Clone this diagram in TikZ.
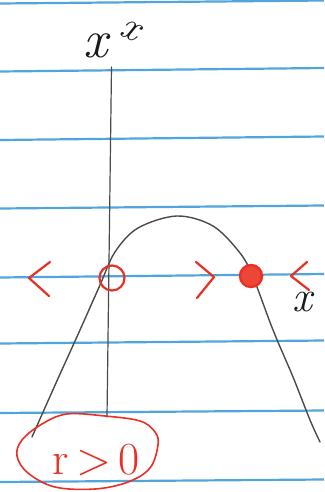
\documentclass[tikz,border=0pt]{standalone}
\begin{document}
\begin{tikzpicture}[x=1pt,y=-1pt,
  ruled/.style={draw={rgb,255:red,80;green,165;blue,220},line width=2.2pt},
  curve/.style={draw={rgb,255:red,75;green,75;blue,75},line width=1.4pt,line cap=round},
  redmark/.style={draw={rgb,255:red,232;green,48;blue,36},line width=2.2pt,line cap=round,line join=round},
  ink/.style={text={rgb,255:red,25;green,25;blue,25},font=\fontsize{54}{54}\selectfont\itshape,inner sep=0pt},
  redink/.style={text={rgb,255:red,232;green,48;blue,36},font=\fontsize{46}{46}\selectfont,inner sep=0pt}]
\fill[white] (0,0) rectangle (324,492);
\useasboundingbox (0,0) rectangle (324,492);
% ruled paper lines
\draw[ruled] (0,3.5) -- (324,0.5);
\draw[ruled] (0,71.5) -- (324,68);
\draw[ruled] (0,140) -- (324,136.5);
\draw[ruled] (0,208.5) -- (324,205.5);
\draw[ruled] (0,277.5) -- (324,274);
\draw[ruled] (0,343.5) -- (324,340.5);
\draw[ruled] (0,413) -- (324,410.5);
\draw[ruled] (0,482) -- (324,479.5);
% vertical axis
\coordinate (vtop) at (111.5,67);
\coordinate (vbot) at (107,417);
\draw[curve,line width=1.2pt] (vtop) -- (vbot);
% top labels
\node[ink] (lx) at (96,46) {x};
\node[ink,font=\fontsize{40}{40}\selectfont\itshape,rotate=-25] (ldot) at (130,30) {x};
% parabola-like curve
\draw[curve] plot[smooth,tension=0.55] coordinates {(32,437) (56,383) (80,330) (100,285) (115,252) (138,228) (177,216) (213,226) (240,253) (253,277) (273,330) (293,377) (310,420) (320,442)};
% red phase-line marks
\draw[redmark] (50,262) -- (29,278) -- (49,296);
\draw[redmark] (196,262) -- (214,277) -- (197,298);
\draw[redmark] (307,262) -- (291,276) -- (309,290);
\node[circle,draw={rgb,255:red,232;green,48;blue,36},line width=2.2pt,minimum size=25pt,inner sep=0pt] (open) at (112,278) {};
\node[circle,draw={rgb,255:red,232;green,48;blue,36},fill={rgb,255:red,236;green,70;blue,55},line width=2.4pt,minimum size=22pt,inner sep=0pt] (closed) at (251,276) {};
\node[ink,font=\fontsize{44}{44}\selectfont\itshape] (xl) at (302,302) {x};
% bottom blob with text
\draw[redmark,line width=1.6pt] plot[smooth cycle,tension=0.6] coordinates {(67,414) (105,416) (140,421) (155,432) (158,445) (150,468) (128,482) (95,489) (55,487) (28,473) (17,456) (22,440) (42,424)};
\node[redink] (cond) at (96,460) {r\,>\,0};
\end{tikzpicture}
\end{document}
